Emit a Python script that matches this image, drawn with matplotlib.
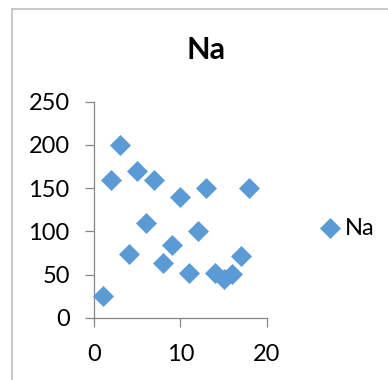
import matplotlib
matplotlib.use("Agg")
import matplotlib.pyplot as plt
from matplotlib.patches import Rectangle

# sodium readings by sample number
sample = [1, 2, 3, 4, 5, 6, 7, 8, 9, 10, 11, 12, 13, 14, 15, 16, 17, 18]
na = [26, 160, 200, 74, 170, 110, 160, 63, 84, 140, 52, 100, 150, 52, 45, 51, 72, 150]

blue = '#5B9BD5'
grey = '#868686'
plt.rcParams['font.family'] = ['Lato', 'DejaVu Sans']

fig = plt.figure(figsize=(3.88, 3.80), dpi=100)
fig.patches.append(Rectangle((12 / 388, -0.1), 1.2, 1 - 9 / 380 + 0.1,
                             transform=fig.transFigure, fill=False,
                             edgecolor='#BFBFBF', linewidth=1.2))

ax = fig.add_axes([94 / 388, 1 - 318 / 380, (266.7 - 94) / 388, (318 - 101.7) / 380])
ax.scatter(sample, na, marker='D', s=10.7 ** 2, color=blue, linewidths=0,
           label='Na', clip_on=False, zorder=3)

ax.set_xlim(0, 20)
ax.set_ylim(0, 250)
ax.set_xticks([0, 10, 20])
ax.set_yticks([0, 50, 100, 150, 200, 250])
for side in ('top', 'right'):
    ax.spines[side].set_visible(False)
for side in ('left', 'bottom'):
    ax.spines[side].set_color(grey)
    ax.spines[side].set_linewidth(0.9)
ax.tick_params(direction='out', length=6.5, width=0.9, color=grey,
               labelsize=17)
ax.tick_params(axis='x', pad=12)
ax.tick_params(axis='y', pad=11)

fig.text(206 / 388, 1 - 50 / 380, 'Na', ha='center', va='center',
         fontsize=22, fontweight='bold')

ax.legend(loc='center left', bbox_to_anchor=(1.305, 0.416), frameon=False,
          fontsize=17, handletextpad=0.2, borderaxespad=0, borderpad=0,
          handlelength=0.9)

fig.savefig('out.png', dpi=100)
